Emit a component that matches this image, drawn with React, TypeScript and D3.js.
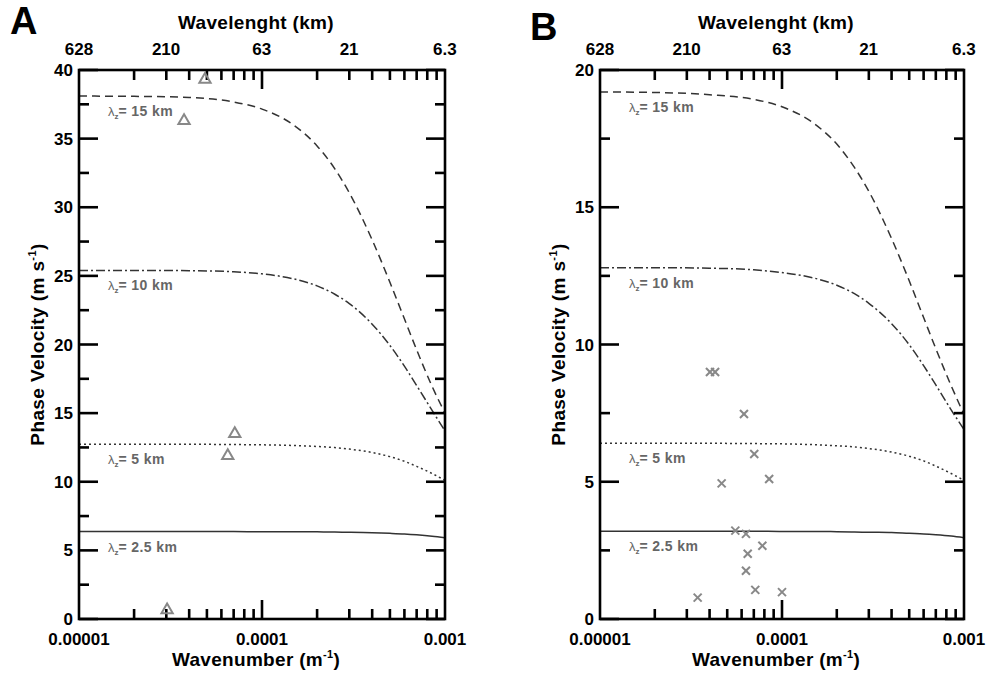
import React from "react";
import * as d3 from "d3";

// ---------- data ----------
const kGrid = [1e-5, 2e-5, 4e-5, 7e-5, 1e-4, 1.5e-4, 2e-4, 2.5e-4, 3e-4, 4e-4, 5e-4, 6e-4, 7e-4, 8.5e-4, 1e-3];

const curveA15 = [38.1, 38.08, 38.0, 37.67, 37.15, 35.96, 34.47, 32.8, 31.05, 27.62, 24.53, 21.87, 19.61, 16.95, 15.0];
const curveA10 = [25.4, 25.4, 25.38, 25.3, 25.15, 24.77, 24.27, 23.66, 22.98, 21.48, 19.93, 18.42, 17.01, 15.2, 13.7];
const curveA5 = [12.73, 12.73, 12.73, 12.71, 12.69, 12.64, 12.57, 12.49, 12.38, 12.13, 11.83, 11.49, 11.12, 10.6, 10.1];
const curveA25 = [6.37, 6.37, 6.37, 6.37, 6.36, 6.36, 6.35, 6.33, 6.32, 6.29, 6.24, 6.19, 6.13, 6.03, 5.92];

const curveB15 = [19.2, 19.18, 19.1, 18.93, 18.66, 18.05, 17.3, 16.45, 15.58, 13.86, 12.32, 10.98, 9.85, 8.5, 7.45];
const curveB10 = [12.8, 12.8, 12.78, 12.72, 12.62, 12.42, 12.16, 11.85, 11.5, 10.76, 9.99, 9.23, 8.53, 7.62, 6.9];
const curveB5 = [6.4, 6.4, 6.4, 6.39, 6.38, 6.35, 6.31, 6.27, 6.21, 6.08, 5.93, 5.76, 5.57, 5.3, 5.05];
const curveB25 = [3.2, 3.2, 3.2, 3.2, 3.19, 3.19, 3.18, 3.17, 3.16, 3.15, 3.12, 3.1, 3.07, 3.02, 2.96];

const lambdaLabels = ["15", "10", "5", "2.5"];

const triK = [3.03e-5, 3.75e-5, 4.88e-5, 6.5e-5, 7.1e-5];
const triC = [0.65, 36.3, 39.3, 11.9, 13.5];

const crossK = [3.44e-5, 4.02e-5, 4.29e-5, 4.66e-5, 5.54e-5, 6.18e-5, 6.34e-5, 6.48e-5, 6.34e-5, 7.04e-5, 7.13e-5, 7.8e-5, 8.5e-5, 1.0e-4];
const crossC = [0.78, 9.0, 9.0, 4.94, 3.22, 7.47, 3.1, 2.38, 1.76, 6.01, 1.06, 2.67, 5.1, 0.98];

const wavelengthLabels = ["628", "210", "63", "21", "6.3"];
const wavenumberLabels = ["0.00001", "0.0001", "0.001"];

// ---------- styles ----------
const FONT = "'Liberation Sans', Arial, Helvetica, sans-serif";
const dashes = ["8,5", "9,3,2,3", "2,3", null];

type PanelProps = {
  letter: string;
  letterX: number;
  letterY: number;
  left: number;
  right: number;
  yMax: number;
  curves: number[][];
  markers: "tri" | "cross";
  mk: number[];
  mc: number[];
};

function Panel(p: PanelProps) {
  const top = 70;
  const bottom = 619;
  const x = d3.scaleLog().domain([1e-5, 1e-3]).range([p.left, p.right]);
  const y = d3.scaleLinear().domain([0, p.yMax]).range([bottom, top]);

  const line = d3
    .line<[number, number]>()
    .x((d) => x(d[0]))
    .y((d) => y(d[1]))
    .curve(d3.curveMonotoneX);

  const minorX: number[] = [];
  [1e-5, 1e-4].forEach((dec) => {
    for (let i = 2; i <= 9; i++) minorX.push(dec * i);
  });
  const majorY = d3.range(0, p.yMax + 0.001, 5);
  const minorY = d3.range(2.5, p.yMax, 5);
  const cx = (p.left + p.right) / 2 - 6;
  const AX = 2.6;

  const wlK = wavelengthLabels.map((w) => (2 * Math.PI) / (parseFloat(w) * 1000));

  return (
    <g>
      <text x={p.letterX} y={p.letterY} fontFamily={FONT} fontWeight="bold" fontSize={38}>
        {p.letter}
      </text>
      <text x={cx} y={29} textAnchor="middle" fontFamily={FONT} fontWeight="bold" fontSize={19} letterSpacing={0.3}>
        Wavelenght (km)
      </text>
      {wlK.map((k, i) => (
        <text key={"wl" + i} x={x(k)} y={55} textAnchor="middle" fontFamily={FONT} fontWeight="bold" fontSize={17}>
          {wavelengthLabels[i]}
        </text>
      ))}

      {/* curves */}
      {p.curves.map((vals, ci) => (
        <path
          key={"c" + ci}
          d={line(kGrid.map((k, i) => [k, vals[i]]) as [number, number][]) || ""}
          fill="none"
          stroke="#333"
          strokeWidth={1.5}
          strokeDasharray={dashes[ci] || undefined}
        />
      ))}
      {p.curves.map((vals, ci) => (
        <text key={"l" + ci} x={p.left + 29} y={y(vals[0]) + 20} fontFamily={FONT} fill="#666">
          <tspan fontSize={13}>λ</tspan>
          <tspan fontSize={8} dy={3} fontWeight="bold">z</tspan>
          <tspan fontSize={14} dy={-3} fontWeight="bold" letterSpacing={0.4}>{"= " + lambdaLabels[ci] + " km"}</tspan>
        </text>
      ))}

      {/* frame */}
      <rect x={p.left} y={top} width={p.right - p.left} height={bottom - top} fill="none" stroke="#000" strokeWidth={AX} />

      {/* x ticks */}
      {minorX.map((k, i) => (
        <g key={"mx" + i}>
          <line x1={x(k)} x2={x(k)} y1={bottom} y2={bottom - 10} stroke="#000" strokeWidth={AX} />
          <line x1={x(k)} x2={x(k)} y1={top} y2={top + 10} stroke="#000" strokeWidth={AX} />
        </g>
      ))}
      <line x1={x(1e-4)} x2={x(1e-4)} y1={bottom} y2={bottom - 19} stroke="#000" strokeWidth={AX} />
      <line x1={x(1e-4)} x2={x(1e-4)} y1={top} y2={top + 19} stroke="#000" strokeWidth={AX} />
      {[1e-5, 1e-4, 1e-3].map((k, i) => (
        <text key={"xl" + i} x={x(k)} y={645} textAnchor="middle" fontFamily={FONT} fontWeight="bold" fontSize={17}>
          {wavenumberLabels[i]}
        </text>
      ))}
      <text x={cx} y={666} textAnchor="middle" fontFamily={FONT} fontWeight="bold" fontSize={19} letterSpacing={0.3}>
        Wavenumber (m
        <tspan fontSize={11} dy={-8}>-1</tspan>
        <tspan dy={8}>)</tspan>
      </text>

      {/* y ticks */}
      {majorY.map((v, i) => (
        <g key={"my" + i}>
          <line x1={p.left} x2={p.left + 19} y1={y(v)} y2={y(v)} stroke="#000" strokeWidth={AX} />
          <line x1={p.right} x2={p.right - 19} y1={y(v)} y2={y(v)} stroke="#000" strokeWidth={AX} />
          <text x={p.left - 6} y={y(v) + 6} textAnchor="end" fontFamily={FONT} fontWeight="bold" fontSize={17}>
            {v}
          </text>
        </g>
      ))}
      {minorY.map((v, i) => (
        <g key={"ny" + i}>
          <line x1={p.left} x2={p.left + 10} y1={y(v)} y2={y(v)} stroke="#000" strokeWidth={AX} />
          <line x1={p.right} x2={p.right - 10} y1={y(v)} y2={y(v)} stroke="#000" strokeWidth={AX} />
        </g>
      ))}
      <text
        transform={`translate(${p.left - 35},${(top + bottom) / 2}) rotate(-90)`}
        textAnchor="middle"
        fontFamily={FONT}
        fontWeight="bold"
        fontSize={19}
        letterSpacing={0.4}
      >
        Phase Velocity (m s
        <tspan fontSize={11} dy={-8}>-1</tspan>
        <tspan dy={8}>)</tspan>
      </text>

      {/* markers */}
      {p.markers === "tri"
        ? p.mk.map((k, i) => (
            <path
              key={"t" + i}
              transform={`translate(${x(k)},${y(p.mc[i])})`}
              d={d3.symbol().type(d3.symbolTriangle).size(55)() || ""}
              fill="none"
              stroke="#888"
              strokeWidth={2}
            />
          ))
        : p.mk.map((k, i) => {
            const px = x(k);
            const py = y(p.mc[i]);
            const s = 4;
            return (
              <g key={"x" + i} stroke="#888" strokeWidth={2}>
                <line x1={px - s} x2={px + s} y1={py - s} y2={py + s} />
                <line x1={px - s} x2={px + s} y1={py + s} y2={py - s} />
              </g>
            );
          })}
    </g>
  );
}

export default function App() {
  return (
    <svg width={991} height={677} style={{ position: "absolute", left: 0, top: 0, background: "#fff" }}>
      <rect x={0} y={0} width={991} height={677} fill="#fff" />
      <Panel
        letter="A"
        letterX={10}
        letterY={34}
        left={79}
        right={445}
        yMax={40}
        curves={[curveA15, curveA10, curveA5, curveA25]}
        markers="tri"
        mk={triK}
        mc={triC}
      />
      <Panel
        letter="B"
        letterX={530}
        letterY={40}
        left={600}
        right={964}
        yMax={20}
        curves={[curveB15, curveB10, curveB5, curveB25]}
        markers="cross"
        mk={crossK}
        mc={crossC}
      />
    </svg>
  );
}
